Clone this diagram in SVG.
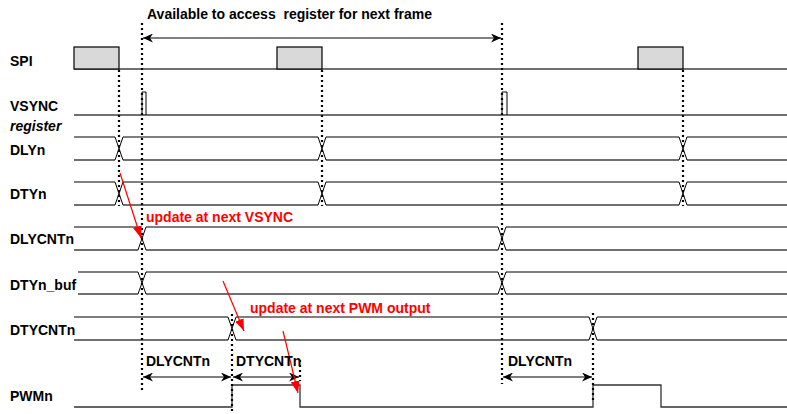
<svg xmlns="http://www.w3.org/2000/svg" width="787" height="414" viewBox="0 0 787 414">
<defs>
<marker id="ah" markerWidth="11" markerHeight="9" refX="10" refY="4.5" orient="auto-start-reverse" markerUnits="userSpaceOnUse">
<path d="M0,0 L10,4.5 L0,9 L3,4.5 Z" fill="#000"/>
</marker>
<marker id="rh" markerWidth="12" markerHeight="9" refX="12" refY="4.5" orient="auto" markerUnits="userSpaceOnUse">
<path d="M0,0 L12,4.5 L0,9 Z" fill="#ff0000"/>
</marker>
<style>
text{font-family:"Liberation Sans",Arial,sans-serif;font-weight:bold;font-size:14px;fill:#000;white-space:pre}
.red{fill:#ff0000}
.it{font-style:italic}
.hi{stroke:#000;stroke-width:1.2;fill:none}
.lo{stroke:#707070;stroke-width:1.8;fill:none}
.x{stroke:#000;stroke-width:1;fill:none}
.dot{stroke:#000;stroke-width:2.2;stroke-dasharray:2 3;fill:none}
.dim{stroke:#000;stroke-width:1.2;fill:none}
.rarr{stroke:#ff0000;stroke-width:1.2;fill:none}
.box{fill:#d9d9d9;stroke:#000;stroke-width:1.2}
</style>
</defs>
<rect width="787" height="414" fill="#fff"/>

<g id="labels">
<text x="10" y="66">SPI</text>
<text x="10" y="111">VSYNC</text>
<text x="10" y="131" class="it">register</text>
<text x="10" y="155">DLYn</text>
<text x="10" y="199">DTYn</text>
<text x="10" y="244">DLYCNTn</text>
<text x="10" y="290">DTYn_buf</text>
<text x="10" y="335">DTYCNTn</text>
<text x="10" y="401">PWMn</text>
</g>

<g id="spi">
<line class="lo" x1="74" y1="69" x2="787" y2="69"/>
<rect class="box" x="74" y="47" width="45" height="22"/>
<rect class="box" x="277" y="47" width="45" height="22"/>
<rect class="box" x="638" y="47" width="45" height="22"/>
</g>

<g id="vsync">
<line class="lo" x1="74" y1="115" x2="787" y2="115"/>
<path class="x" d="M142,115 V92 H146 V115"/>
<path class="x" d="M502,115 V92 H507 V115"/>
</g>

<g id="dlyn">
<path class="hi" d="M74,137 H115 M123,137 H318 M326,137 H679 M687,137 H787"/>
<path class="lo" d="M74,160 H115 M123,160 H318 M326,160 H679 M687,160 H787"/>
<path class="x" d="M115,137 L123,160 M115,160 L123,137 M318,137 L326,160 M318,160 L326,137 M679,137 L687,160 M679,160 L687,137"/>
</g>

<g id="dtyn">
<path class="hi" d="M74,182 H115 M123,182 H318 M326,182 H679 M687,182 H787"/>
<path class="lo" d="M74,205 H115 M123,205 H318 M326,205 H679 M687,205 H787"/>
<path class="x" d="M115,182 L123,205 M115,205 L123,182 M318,182 L326,205 M318,205 L326,182 M679,182 L687,205 M679,205 L687,182"/>
</g>

<g id="dlycntn">
<path class="hi" d="M74,227 H138 M146,227 H498 M506,227 H787"/>
<path class="lo" d="M74,250 H138 M146,250 H498 M506,250 H787"/>
<path class="x" d="M138,227 L146,250 M138,250 L146,227 M498,227 L506,250 M498,250 L506,227"/>
</g>

<g id="dtyn_buf">
<path class="hi" d="M78,272 H138 M146,272 H498 M506,272 H787"/>
<path class="lo" d="M78,294 H138 M146,294 H498 M506,294 H787"/>
<path class="x" d="M138,272 L146,294 M138,294 L146,272 M498,272 L506,294 M498,294 L506,272"/>
</g>

<g id="dtycntn">
<path class="hi" d="M74,317 H228 M236,317 H589 M597,317 H787"/>
<path class="lo" d="M74,340 H228 M236,340 H589 M597,340 H787"/>
<path class="x" d="M228,317 L236,340 M228,340 L236,317 M589,317 L597,340 M589,340 L597,317"/>
</g>

<g id="pwmn">
<path d="M74,407 H232 V385 H300 V407 H593 V385 H661 V407 H787" fill="none" stroke="#333" stroke-width="1.3"/>
</g>

<g id="connectors">
<line class="dot" x1="142" y1="23" x2="142" y2="392"/>
<line class="dot" x1="502" y1="23" x2="502" y2="384"/>
<line class="dot" x1="119" y1="70" x2="119" y2="206"/>
<line class="dot" x1="322" y1="70" x2="322" y2="206"/>
<line class="dot" x1="683" y1="70" x2="683" y2="206"/>
<line class="dot" x1="232" y1="314" x2="232" y2="414"/>
<line class="dot" x1="593" y1="313" x2="593" y2="400"/>
<line class="dot" x1="300" y1="360" x2="300" y2="381"/>

<line class="dim" x1="143" y1="38" x2="501" y2="38" marker-start="url(#ah)" marker-end="url(#ah)"/>
<line class="dim" x1="143" y1="377" x2="231" y2="377" marker-start="url(#ah)" marker-end="url(#ah)"/>
<line class="dim" x1="233" y1="377" x2="299" y2="377" marker-start="url(#ah)" marker-end="url(#ah)"/>
<line class="dim" x1="503" y1="377" x2="592" y2="377" marker-start="url(#ah)" marker-end="url(#ah)"/>

<line class="rarr" x1="120" y1="173" x2="141" y2="238" marker-end="url(#rh)"/>
<line class="rarr" x1="223" y1="281" x2="244" y2="331" marker-end="url(#rh)"/>
<line class="rarr" x1="283" y1="331" x2="298" y2="393" marker-end="url(#rh)"/>
</g>

<g id="annotations">
<text x="147" y="19" xml:space="preserve">Available to access  register for next frame</text>
<text x="146" y="222" class="red">update at next VSYNC</text>
<text x="250" y="313" class="red">update at next PWM output</text>
<text x="146" y="366">DLYCNTn</text>
<text x="236" y="366">DTYCNTn</text>
<text x="508" y="366">DLYCNTn</text>
</g>
</svg>
